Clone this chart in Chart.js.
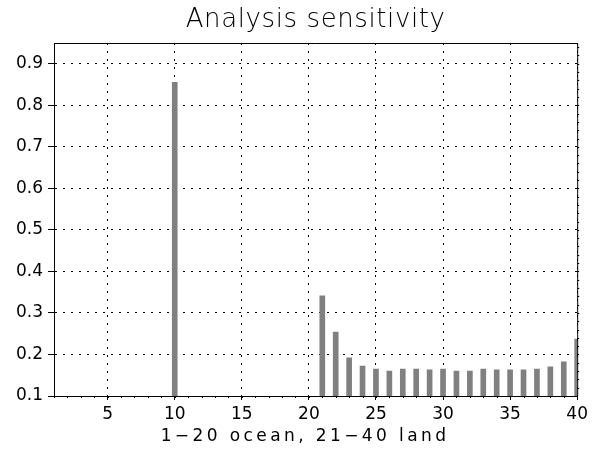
<!DOCTYPE html>
<html>
<head>
<meta charset="utf-8">
<title>Analysis sensitivity</title>
<script src="https://cdn.jsdelivr.net/npm/chart.js@4"></script>
<style>
  html, body { margin: 0; padding: 0; background: #fff; }
</style>
</head>
<body>
<canvas id="chart-area" width="592" height="449"></canvas>
<script>
// puntos 1-20 oceano, 21-40 tierra
var puntos = [1, 2, 3, 4, 5, 6, 7, 8, 9, 10,
              11, 12, 13, 14, 15, 16, 17, 18, 19, 20,
              21, 22, 23, 24, 25, 26, 27, 28, 29, 30,
              31, 32, 33, 34, 35, 36, 37, 38, 39, 40];
var sensibilidad = [0, 0, 0, 0, 0, 0, 0, 0, 0, 0.855,
                    0, 0, 0, 0, 0, 0, 0, 0, 0, 0,
                    0.341, 0.254, 0.192, 0.172, 0.165, 0.160, 0.165, 0.165, 0.163, 0.165,
                    0.160, 0.160, 0.165, 0.163, 0.163, 0.163, 0.165, 0.170, 0.182, 0.237];
var xTicks = [5, 10, 15, 20, 25, 30, 35, 40];
var yTicks = [0.1, 0.2, 0.3, 0.4, 0.5, 0.6, 0.7, 0.8, 0.9];

var titulo = 'Analysis sensitivity';
var tituloX = '1\u221220 ocean, 21\u221240 land';

var fuente = "'DejaVu Sans', sans-serif";

// titulos, marco superior/derecho y marcas menores
var marco = {
  id: 'marco',
  afterDraw: function(chart) {
    var ctx = chart.ctx, a = chart.chartArea;
    var sx = chart.scales.x, sy = chart.scales.y;
    ctx.save();
    ctx.strokeStyle = '#000';
    ctx.lineWidth = 1;
    ctx.beginPath();
    ctx.moveTo(a.left, a.top + 0.5);
    ctx.lineTo(a.right + 0.5, a.top + 0.5);
    ctx.lineTo(a.right + 0.5, a.bottom);
    puntos.forEach(function(p) {
      var px = Math.round(sx.getPixelForValue(p)) + 0.5;
      ctx.moveTo(px, a.bottom);
      ctx.lineTo(px, a.bottom + 2);
    });
    for (var v = 0.12; v < 0.95; v += 0.02) {
      var py = Math.round(sy.getPixelForValue(v)) + 0.5;
      ctx.moveTo(a.right, py);
      ctx.lineTo(a.right + 2, py);
    }
    ctx.stroke();

    ctx.fillStyle = '#000';
    ctx.textAlign = 'center';
    ctx.textBaseline = 'alphabetic';
    ctx.font = "200 26px " + fuente;
    ctx.letterSpacing = '0.6px';
    ctx.fillText(titulo, (a.left + a.right) / 2, 27);
    ctx.font = "17px " + fuente;
    ctx.letterSpacing = '3.4px';
    ctx.fillText(tituloX, 305, 441);
    ctx.restore();
  }
};

var config = {
  type: 'bar',
  data: {
    datasets: [{
      data: puntos.map(function(p, i) { return { x: p, y: sensibilidad[i] }; }),
      backgroundColor: '#808080',
      borderWidth: 0,
      barThickness: 5
    }]
  },
  options: {
    responsive: false,
    animation: false,
    layout: { padding: { left: 0, right: 11, top: 43, bottom: 0 } },
    plugins: {
      legend: { display: false },
      tooltip: { enabled: false },
      title: { display: false }
    },
    scales: {
      x: {
        type: 'linear',
        min: 1,
        max: 40,
        offset: false,
        afterBuildTicks: function(scale) {
          scale.ticks = xTicks.map(function(v) { return { value: v }; });
        },
        afterFit: function(scale) { scale.height = 53; },
        ticks: {
          color: '#000',
          padding: 4,
          maxRotation: 0,
          font: { family: fuente, size: 17 },
          callback: function(v) { return String(v); }
        },
        grid: {
          offset: false,
          color: '#000',
          lineWidth: 1,
          drawTicks: true,
          tickLength: 4,
          tickBorderDash: [],
          tickColor: '#000'
        },
        border: { display: true, color: '#000', width: 1, dash: [2, 6] }
      },
      y: {
        min: 0.1,
        max: 0.95,
        afterBuildTicks: function(scale) {
          scale.ticks = yTicks.map(function(v) { return { value: v }; });
        },
        afterFit: function(scale) { scale.width = 54; },
        ticks: {
          color: '#000',
          padding: 5,
          font: { family: fuente, size: 17 },
          callback: function(v) { return v.toFixed(1); }
        },
        grid: {
          offset: false,
          color: '#000',
          lineWidth: 1,
          drawTicks: true,
          tickLength: 6,
          tickBorderDash: [],
          tickColor: '#000'
        },
        border: { display: true, color: '#000', width: 1, dash: [2, 6] }
      }
    }
  },
  plugins: [marco]
};

var ctx = document.getElementById('chart-area').getContext('2d');
window.myBar = new Chart(ctx, config);
</script>
</body>
</html>
